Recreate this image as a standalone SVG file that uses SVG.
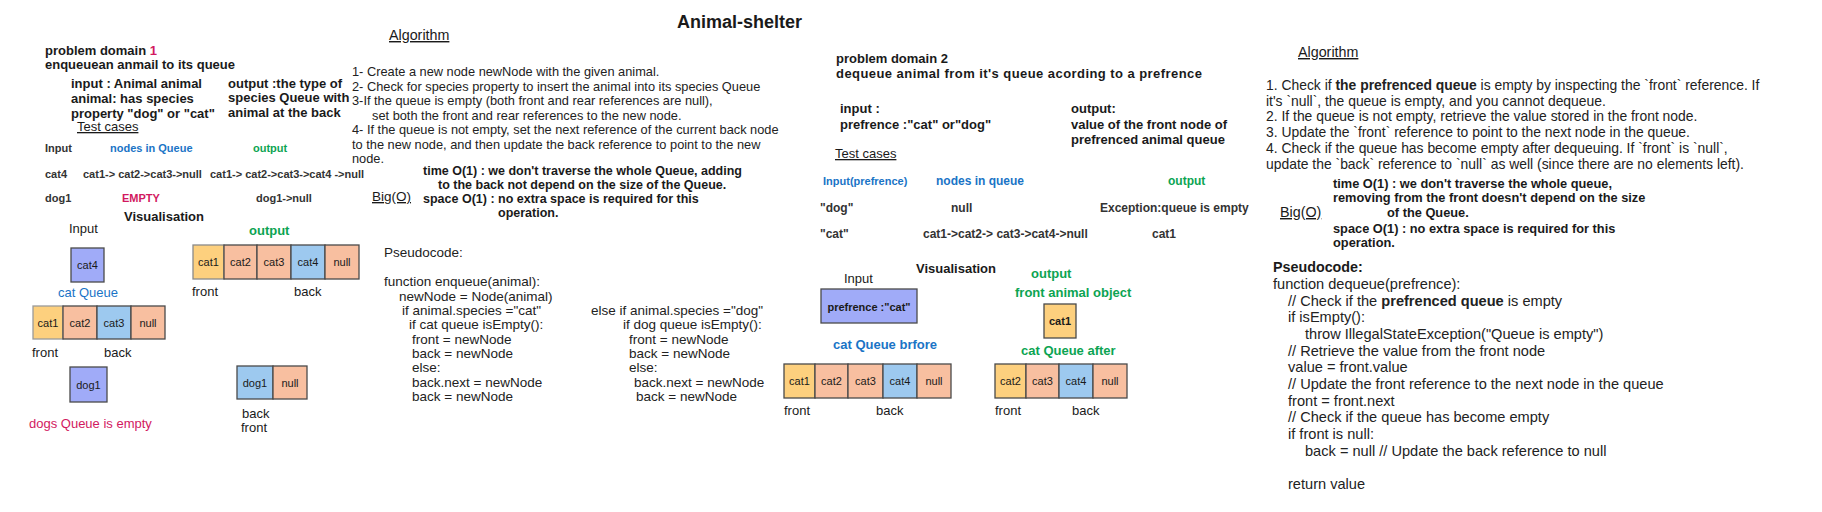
<svg xmlns="http://www.w3.org/2000/svg" width="1822" height="512" viewBox="0 0 1822 512">
<style>
text{font-family:"Liberation Sans",Arial,sans-serif;fill:#1a1a1a}
.t{font-size:18px;font-weight:bold}
.h{font-size:13px;font-weight:bold}
.r{font-size:13px}
.u{font-size:13px;text-decoration:underline}
.ua{font-size:14.3px;text-decoration:underline}
.a{font-size:12.8px;fill:#222}
.pl{font-size:13.5px;fill:#222}
.a2{font-size:13.9px;fill:#222}
.b{font-size:12.5px;font-weight:bold}
.b2{font-size:12.8px;font-weight:bold}
.s{font-size:11px;font-weight:bold;fill:#333}
.s2{font-size:12px;font-weight:bold;fill:#333}
.p{font-size:14.6px;fill:#222}
.blue{fill:#1a74c6}
.green{fill:#0ca452}
.red{fill:#d2195f}
.bx{stroke:#4a4a4a;stroke-width:1.3}
.yl{fill:#fdd07e}
.pc{fill:#f8bfa0}
.lb{fill:#9dc9ef}
.lv{fill:#a0abf8}
.bt{font-size:11px;text-anchor:middle;fill:#1a1a1a}
.bb{font-size:11px;font-weight:bold;text-anchor:middle;fill:#1a1a1a}
</style>
<rect width="1822" height="512" fill="#ffffff"/>
<g id="connectors"/>

<g id="title"><text class="t" x="677" y="28">Animal-shelter</text></g>

<g id="problem1">
<text class="h" x="45" y="55">problem domain <tspan class="red">1</tspan></text>
<text class="h" x="45" y="69">enqueuean anmail to its queue</text>
<text class="h" x="71" y="88">input : Animal animal</text>
<text class="h" x="71" y="103">animal: has species</text>
<text class="h" x="71" y="118">property "dog" or "cat"</text>
<text class="h" x="228" y="88">output  :the type of</text>
<text class="h" x="228" y="102">species Queue with</text>
<text class="h" x="228" y="117">animal at the back</text>
</g>

<g id="testcases1">
<text class="u" x="77" y="131">Test cases</text>
<text class="s" x="45" y="152">Input</text>
<text class="s blue" x="110" y="152">nodes in Queue</text>
<text class="s green" x="253" y="152">output</text>
<text class="s" x="45" y="178">cat4</text>
<text class="s" x="83" y="178">cat1-&gt; cat2-&gt;cat3-&gt;null</text>
<text class="s" x="210" y="178">cat1-&gt; cat2-&gt;cat3-&gt;cat4 -&gt;null</text>
<text class="s" x="45" y="202">dog1</text>
<text class="s red" x="122" y="202">EMPTY</text>
<text class="s" x="256" y="202">dog1-&gt;null</text>
</g>

<g id="visualisation1">
<text class="h" x="124" y="221">Visualisation</text>
<text class="r" x="69" y="233">Input</text>
<text class="h green" x="249" y="235">output</text>
</g>

<g id="input-cat4">
<rect class="bx lv" x="71" y="248" width="33" height="34"/>
<text class="bt" x="87.5" y="269">cat4</text>
</g>

<g id="cat-queue-1">
<text class="r blue" x="58" y="297">cat Queue</text>
<rect class="yl" x="33" y="306" width="30" height="33" stroke="#9a9a9a" stroke-width="1.3"/>
<rect class="bx pc" x="63" y="306" width="34" height="33"/>
<rect class="bx lb" x="97" y="306" width="34" height="33"/>
<rect class="bx pc" x="131" y="306" width="34" height="33"/>
<text class="bt" x="48" y="326.5">cat1</text>
<text class="bt" x="80" y="326.5">cat2</text>
<text class="bt" x="114" y="326.5">cat3</text>
<text class="bt" x="148" y="326.5">null</text>
<text class="r" x="32" y="357">front</text>
<text class="r" x="104" y="357">back</text>
</g>

<g id="input-dog1">
<rect class="bx lv" x="70" y="367" width="37" height="35"/>
<text class="bt" x="88.5" y="388.5">dog1</text>
<text class="r red" x="29" y="428">dogs Queue is empty</text>
</g>

<g id="output-cat-queue-1">
<rect class="yl" x="193" y="245" width="31" height="34" stroke="#8a8a8a" stroke-width="1.3"/>
<rect class="bx pc" x="224" y="245" width="33" height="34"/>
<rect class="bx pc" x="257" y="245" width="34" height="34"/>
<rect class="bx lb" x="291" y="245" width="34" height="34"/>
<rect class="bx pc" x="325" y="245" width="34" height="34"/>
<text class="bt" x="208.5" y="266">cat1</text>
<text class="bt" x="240.5" y="266">cat2</text>
<text class="bt" x="274" y="266">cat3</text>
<text class="bt" x="308" y="266">cat4</text>
<text class="bt" x="342" y="266">null</text>
<text class="r" x="192" y="296">front</text>
<text class="r" x="294" y="296">back</text>
</g>

<g id="output-dog-queue-1">
<rect class="bx lb" x="237" y="366" width="36" height="33"/>
<rect class="bx pc" x="273" y="366" width="34" height="33"/>
<text class="bt" x="255" y="386.5">dog1</text>
<text class="bt" x="290" y="386.5">null</text>
<text class="r" x="242" y="418">back</text>
<text class="r" x="241" y="432">front</text>
</g>

<g id="algorithm1">
<text class="ua" x="389" y="40">Algorithm</text>
<text class="a" x="352" y="76">1- Create a new node newNode with the given animal.</text>
<text class="a" x="352" y="90.5">2- Check for species property to insert the animal into its species Queue</text>
<text class="a" x="352" y="105">3-If the queue is empty (both front and rear references are null),</text>
<text class="a" x="372" y="119.5">set both the front and rear references to the new node.</text>
<text class="a" x="352" y="134">4- If the queue is not empty, set the next reference of the current back node</text>
<text class="a" x="352" y="148.5">to the new node, and then update the back reference to point to the new</text>
<text class="a" x="352" y="163">node.</text>
</g>

<g id="bigo1">
<text x="372" y="201" font-size="13.5" text-decoration="underline">Big(O)</text>
<text class="b" x="423" y="175">time O(1) : we don't traverse the whole Queue, adding</text>
<text class="b" x="438" y="189">to the back not depend on the size of the Queue.</text>
<text class="b" x="423" y="203">space O(1) : no extra space is required for this</text>
<text class="b" x="498" y="217">operation.</text>
</g>

<g id="pseudocode1">
<text class="pl" x="384" y="257">Pseudocode:</text>
<text class="pl" x="384" y="286">function enqueue(animal):</text>
<text class="pl" x="399" y="301">newNode = Node(animal)</text>
<text class="pl" x="402" y="315">if animal.species ="cat"</text>
<text class="pl" x="409" y="329">if cat queue isEmpty():</text>
<text class="pl" x="412" y="344">front = newNode</text>
<text class="pl" x="412" y="358">back = newNode</text>
<text class="pl" x="412" y="372">else:</text>
<text class="pl" x="412" y="387">back.next = newNode</text>
<text class="pl" x="412" y="401">back = newNode</text>
<text class="pl" x="591" y="315">else if animal.species ="dog"</text>
<text class="pl" x="623" y="329">if dog queue isEmpty():</text>
<text class="pl" x="629" y="344">front = newNode</text>
<text class="pl" x="629" y="358">back = newNode</text>
<text class="pl" x="629" y="372">else:</text>
<text class="pl" x="634" y="387">back.next = newNode</text>
<text class="pl" x="636" y="401">back = newNode</text>
</g>

<g id="problem2">
<text class="h" x="836" y="63">problem domain 2</text>
<text class="h" x="836" y="78" textLength="366">dequeue animal from it's queue acording to a prefrence</text>
<text class="h" x="840" y="113">input :</text>
<text class="h" x="840" y="129">prefrence :"cat" or"dog"</text>
<text class="h" x="1071" y="113">output:</text>
<text class="h" x="1071" y="129">value of the front node of</text>
<text class="h" x="1071" y="144">prefrenced animal queue</text>
</g>

<g id="testcases2">
<text class="u" x="835" y="158">Test cases</text>
<text class="s blue" x="823" y="185">Input(prefrence)</text>
<text class="s2 blue" x="936" y="185">nodes in queue</text>
<text class="s2 green" x="1168" y="185">output</text>
<text class="s2" x="820" y="212">"dog"</text>
<text class="s2" x="951" y="212">null</text>
<text class="s2" x="1100" y="212">Exception:queue is empty</text>
<text class="s2" x="820" y="238">"cat"</text>
<text class="s2" x="923" y="238">cat1-&gt;cat2-&gt; cat3-&gt;cat4-&gt;null</text>
<text class="s2" x="1152" y="238">cat1</text>
</g>

<g id="visualisation2">
<text class="h" x="916" y="273">Visualisation</text>
<text class="r" x="844" y="283">Input</text>
<text class="h green" x="1031" y="278">output</text>
<text class="h green" x="1015" y="297">front animal object</text>
</g>

<g id="input-preference">
<rect class="bx lv" x="821" y="289" width="96" height="34"/>
<text class="bb" x="869" y="310.5">prefrence :"cat"</text>
</g>

<g id="output-cat1">
<rect class="bx yl" x="1044" y="304" width="32" height="34"/>
<text class="bb" x="1060" y="325">cat1</text>
</g>

<g id="cat-queue-before">
<text class="h blue" x="833" y="349">cat Queue brfore</text>
<rect class="bx yl" x="784" y="364" width="31" height="34"/>
<rect class="bx pc" x="815" y="364" width="33" height="34"/>
<rect class="bx pc" x="848" y="364" width="35" height="34"/>
<rect class="bx lb" x="883" y="364" width="34" height="34"/>
<rect class="bx pc" x="917" y="364" width="34" height="34"/>
<text class="bt" x="799.5" y="385">cat1</text>
<text class="bt" x="831.5" y="385">cat2</text>
<text class="bt" x="865.5" y="385">cat3</text>
<text class="bt" x="900" y="385">cat4</text>
<text class="bt" x="934" y="385">null</text>
<text class="r" x="784" y="415">front</text>
<text class="r" x="876" y="415">back</text>
</g>

<g id="cat-queue-after">
<text class="h green" x="1021" y="355">cat Queue after</text>
<rect class="bx yl" x="995" y="364" width="31" height="34"/>
<rect class="bx pc" x="1026" y="364" width="33" height="34"/>
<rect class="bx lb" x="1059" y="364" width="34" height="34"/>
<rect class="bx pc" x="1093" y="364" width="34" height="34"/>
<text class="bt" x="1010.5" y="385">cat2</text>
<text class="bt" x="1042.5" y="385">cat3</text>
<text class="bt" x="1076" y="385">cat4</text>
<text class="bt" x="1110" y="385">null</text>
<text class="r" x="995" y="415">front</text>
<text class="r" x="1072" y="415">back</text>
</g>

<g id="algorithm2">
<text class="ua" x="1298" y="57">Algorithm</text>
<text class="a2" x="1266" y="90">1. Check if <tspan font-weight="bold">the prefrenced queue</tspan> is empty by inspecting the `front` reference. If</text>
<text class="a2" x="1266" y="105.5">it's `null`, the   queue is empty, and you cannot dequeue.</text>
<text class="a2" x="1266" y="121">2. If the queue is not empty, retrieve the value stored in the front node.</text>
<text class="a2" x="1266" y="137">3. Update the `front` reference to point to the next node in the queue.</text>
<text class="a2" x="1266" y="153">4. Check if the queue has become empty after dequeuing. If `front` is `null`,</text>
<text class="a2" x="1266" y="169">update the `back` reference to `null` as well (since there are no elements left).</text>
</g>

<g id="bigo2">
<text x="1280" y="217" font-size="14.3" text-decoration="underline">Big(O)</text>
<text class="b2" x="1333" y="188">time O(1) : we don't traverse the whole queue,</text>
<text class="b2" x="1333" y="202">removing from the front doesn't depend on the size</text>
<text class="b2" x="1387" y="217">of the Queue.</text>
<text class="b2" x="1333" y="233">space O(1) : no extra space is required for this</text>
<text class="b2" x="1333" y="247">operation.</text>
</g>

<g id="pseudocode2">
<text x="1273" y="272" font-size="14.3" font-weight="bold">Pseudocode:</text>
<text class="p" x="1273" y="289">function dequeue(prefrence):</text>
<text class="p" x="1288" y="305.7">// Check if the <tspan font-weight="bold">prefrenced queue</tspan> is empty</text>
<text class="p" x="1288" y="322.4">if isEmpty():</text>
<text class="p" x="1305" y="339">throw IllegalStateException("Queue is empty")</text>
<text class="p" x="1288" y="355.7">// Retrieve the value from the front node</text>
<text class="p" x="1288" y="372.4">value = front.value</text>
<text class="p" x="1288" y="389">// Update the front reference to the next node in the queue</text>
<text class="p" x="1288" y="405.7">front = front.next</text>
<text class="p" x="1288" y="422.4">// Check if the queue has become empty</text>
<text class="p" x="1288" y="439">if front is null:</text>
<text class="p" x="1305" y="455.7">back = null // Update the back reference to null</text>
<text class="p" x="1288" y="489">return value</text>
</g>
</svg>
